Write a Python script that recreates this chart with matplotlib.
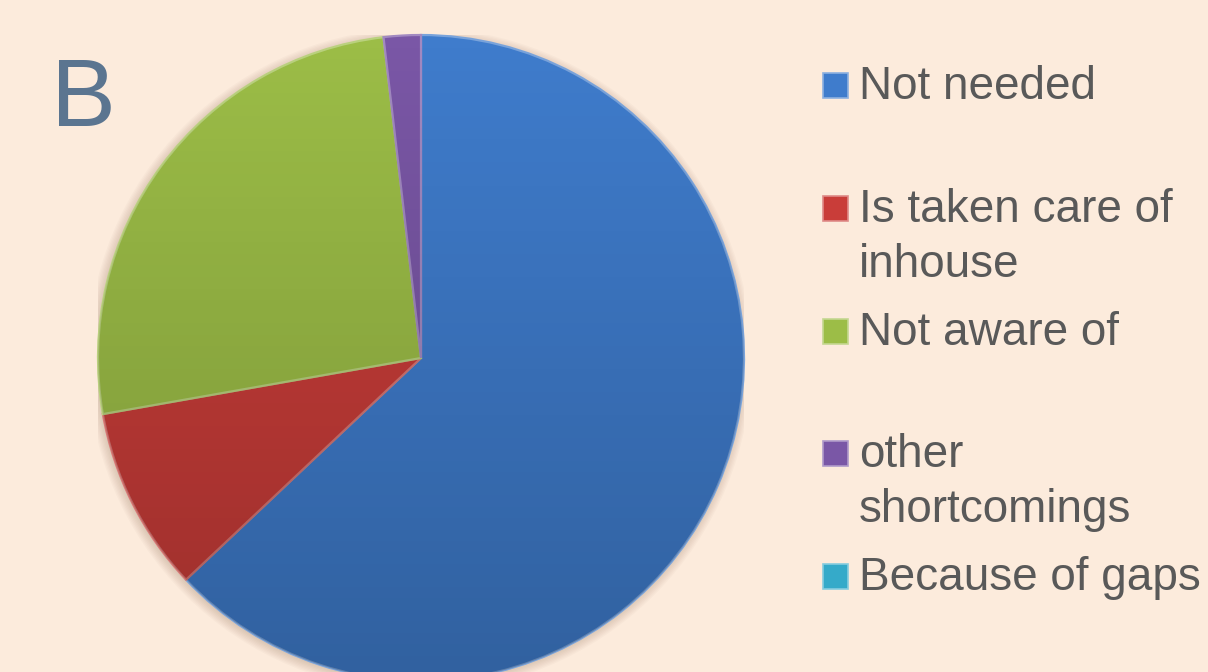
import numpy as np
import matplotlib
matplotlib.use("Agg")
import matplotlib.pyplot as plt
from matplotlib.patches import Circle, Rectangle
from matplotlib.colors import to_rgb

# survey answers (counts)
labels = ["Not needed", "Is taken care of\ninhouse", "Not aware of",
          "other\nshortcomings", "Because of gaps"]
counts = [34, 5, 14, 1, 0]
colors = ["#3f7ccc", "#c93d39", "#9cbd47", "#7a57a6", "#35aac9"]

bg = "#fcebdc"
W, H = 1208, 672

fig = plt.figure(figsize=(W / 100, H / 100), dpi=100, facecolor=bg)


def lighter(c, f=0.35):
    r, g, b = to_rgb(c)
    return (r + (1 - r) * f, g + (1 - g) * f, b + (1 - b) * f)


# pie axes: centre (421, 358) px, radius 323 px
cx, cy, rad = 421, 358, 323
ax = fig.add_axes([(cx - rad) / W, (H - cy - rad) / H, 2 * rad / W, 2 * rad / H])
ax.set_facecolor("none")

# soft shadow round the pie
for k in range(8):
    ax.add_patch(Circle((-0.004, -0.006), 1.0 + 0.004 * k, color="#8a6a50",
                        alpha=0.035, lw=0, zorder=0))

wedges, _ = ax.pie(counts, colors=colors, startangle=90, counterclock=False,
                   radius=1, wedgeprops=dict(linewidth=1.6))
for w, c, n in zip(wedges, colors, counts):
    w.set_edgecolor(lighter(c, 0.3) if n > 0 else "none")
    w.set_zorder(2)

# vertical shading, darker toward the bottom
grad = np.linspace(0, 1, 256).reshape(-1, 1)
shade = np.zeros((256, 1, 4))
shade[..., 3] = 0.22 * grad
im = ax.imshow(shade, extent=(-1, 1, -1, 1), origin="upper", aspect="auto", zorder=3)
im.set_clip_path(Circle((0, 0), 1.0, transform=ax.transData))

ax.set_xlim(-1, 1)
ax.set_ylim(-1, 1)
ax.set_aspect("auto")
ax.axis("off")

# big panel letter
fig.text(51 / W, 1 - 126 / H, "B", fontsize=70, color="#5b7590",
         family="Liberation Sans", va="baseline", ha="left")

# legend drawn by hand, one text per line
y0, step, lead = 99, 122.8, 55
for i, (lab, c) in enumerate(zip(labels, colors)):
    base = y0 + i * step
    fig.patches.append(Rectangle((823 / W, 1 - (base - 1) / H), 25 / W, 25 / H,
                                 transform=fig.transFigure, facecolor=c,
                                 edgecolor=lighter(c, 0.4), lw=1.2))
    for j, line in enumerate(lab.split("\n")):
        fig.text(859 / W, 1 - (base + j * lead) / H, line, fontsize=33,
                 color="#595959", family="Liberation Sans",
                 va="baseline", ha="left")

fig.savefig("out.png", dpi=100, facecolor=bg)
